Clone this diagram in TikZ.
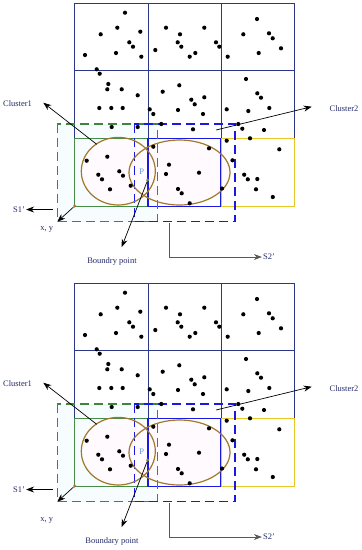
\documentclass[tikz,border=0pt]{standalone}
\usepackage{fontspec}
\setmainfont{Liberation Serif}
\usetikzlibrary{arrows.meta}
\definecolor{gridnavy}{RGB}{45,55,135}
\definecolor{labnavy}{RGB}{35,42,105}
\definecolor{boxgreen}{RGB}{70,140,70}
\definecolor{dashgreen}{RGB}{60,135,60}
\definecolor{boxblue}{RGB}{25,25,225}
\definecolor{boxyellow}{RGB}{230,200,40}
\definecolor{ringbrown}{RGB}{160,120,40}
\definecolor{plight}{RGB}{90,150,210}
\definecolor{cornerbrown}{RGB}{180,110,60}
\definecolor{polive}{RGB}{120,130,80}
\begin{document}
\begin{tikzpicture}[x=1pt,y=-1pt,>={Stealth[length=8pt,width=6pt]},
  lab/.style={text=labnavy,font=\fontsize{8.5}{10}\selectfont},
  gridline/.style={gridnavy,line width=0.7pt},
  cellbox/.style={line width=1.2pt},
  dashbox/.style={line width=1.2pt,dash pattern=on 9pt off 5pt},
  ring/.style={ringbrown,line width=1.2pt},
  arr/.style={->,line width=0.7pt}]
\useasboundingbox (0,0) rectangle (362,550);

\foreach \dy/\word/\xyy [count=\k] in {0/Boundry/229,280/Boundary/240}{
\begin{scope}[shift={(0,\dy)}]
% light fills
\fill[cyan!3] (57.3,124) rectangle (157.3,221.7);
\fill[magenta!2] (118.3,171.2) ellipse [x radius=37pt, y radius=33.8pt];
\fill[magenta!2] (179.5,172.5) ellipse [x radius=50.5pt, y radius=32.5pt];

% grid, first two rows
\draw[gridline] (74.7,3.3) rectangle (294.7,138.3);
\draw[gridline] (74.7,70.7) -- (294.7,70.7);
\draw[gridline] (148,3.3) -- (148,138.3);
\draw[gridline] (221.3,3.3) -- (221.3,138.3);

% third row
\draw[cellbox,boxgreen] (74.7,138.3) rectangle (148,206.7);
\draw[cellbox,boxblue] (148,138.3) rectangle (220.3,206.7);
\draw[cellbox,boxyellow] (221.5,138.3) rectangle (294.7,206.7);

% extended cells
\draw[dashbox,dashgreen] (57.3,124) rectangle (157.3,221.7);
\draw[dashbox,boxblue] (134.3,124) rectangle (235,221.7);

% clusters
\draw[ring] (118.3,171.2) ellipse [x radius=37pt, y radius=33.8pt];
\draw[ring] (179.5,172.5) ellipse [x radius=50.5pt, y radius=32.5pt];

% points
\foreach \x/\y in {125/12.7,100.7/34.3,117.3/27.7,140.3/31.7,129.3/42.3,133/46.7,116/53,141.3/56.7,85/55,
  166/27.7,180/34.3,204.3/27.7,177.7/42.3,181.3/46.7,155.3/50,195.3/53,189.7/56.7,216/42.3,219.3/46.7,
  257/19,243.3/34.3,269/33.3,272.7/38.3,281/48.3,258.7/53,227.7/56.7,
  96.7/69.3,99.7/73.7,108.3/84,107.3/89.3,121.7/89.3,137.7/95.3,99.3/108,111.3/108,122.7/108,111.7/127,137.7/127,
  179.3/85.3,162.7/91.7,191.3/99.7,194.7/104.3,204.3/97.3,149.7/109.3,153.3/114,178/110,203/114,161.3/124,193/129.3,
  246/79,257.3/93.3,261/97.7,269.3/108,226.7/109.3,248.3/111,238.3/124,242.3/128.7,264/130,250/138.3,226.7/140.7,
  107.3/156.7,86.7/160.7,98.3/174.7,102/179.3,119.3/171.3,123/175.7,110/189.3,130.7/185.7,
  153.3/146.7,209/148.3,169/164.7,166/174,199/172.7,178/189,181.7/193.3,189.7/203.3,232.5/160.3,222/188.5,
  279.3/149.3,244.2/174.7,247.8/179.3,257.3/179,256/189.3,272.8/197}
  \fill (\x,\y) circle[radius=2.1pt];

% labels and arrows
\node[lab] (cluster1\k) at (17.5,103.5) {Cluster1};
\coordinate (c1from\k) at (96.7,144.3);
\coordinate (c1to\k) at (43.3,102.7);
\draw[arr] (c1from\k) -- (c1to\k);

\node[lab] (cluster2\k) at (344,108.5) {Cluster2};
\coordinate (c2from\k) at (216,130);
\coordinate (c2to\k) at (311.7,106.7);
\draw[arr] (c2from\k) -- (c2to\k);

\node[lab,inner sep=1pt] (s1\k) at (19,209.5) {S1'};
\coordinate (s1from\k) at (52.7,209.5);
\draw[arr] (s1from\k) -- (s1\k);

\node[circle,fill=cornerbrown,inner sep=0pt,minimum size=3.4pt] (corner\k) at (74.7,206) {};
\coordinate (cornerto\k) at (57.3,221.7);
\draw[arr] (corner\k) -- (cornerto\k);
\node[lab] (xy\k) at (46.7,\xyy) {x, y};

\node[lab,text=plight] (plab\k) at (141.7,171.5) {P};
\node[circle,fill=polive,inner sep=0pt,minimum size=3.4pt] (p\k) at (147.7,180) {};
\coordinate (pto\k) at (121.7,247);
\draw[arr] (p\k) -- (pto\k);
\node[lab] (bpoint\k) at (112,261.7) {\word{} point};

\node[lab,inner sep=1pt] (s2\k) at (269,257) {S2'};
\coordinate (s2from\k) at (169,223);
\draw[arr,gray!70!black] (s2from\k) |- (s2\k);
\end{scope}
}
\end{tikzpicture}
\end{document}
